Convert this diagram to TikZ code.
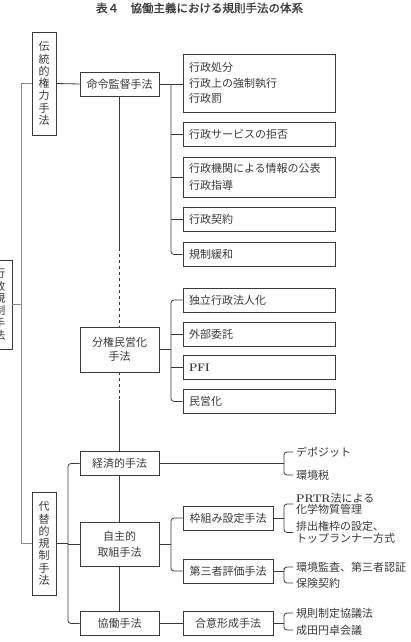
\documentclass[tikz,border=0pt]{standalone}
\usepackage{fontspec}
\newfontfamily\jp{Noto Sans CJK JP}
\newfontfamily\jpbold[FakeBold=1.2]{Noto Sans CJK JP}
\usepackage{xcolor}
\usepackage{tikz}
\usetikzlibrary{positioning}
\definecolor{inkline}{HTML}{3A3A3A}
\definecolor{trunkgray}{HTML}{8C8C8C}

\begin{document}
\begin{tikzpicture}[
  x=1pt, y=-1pt,
  font=\jp\fontsize{11}{13}\selectfont,
  text=inkline,
  box/.style={rectangle, draw=inkline, line width=0.8pt, minimum width=79pt, minimum height=24pt, align=center, inner sep=2pt},
  midbox/.style={box, minimum width=90pt},
  leaf/.style={rectangle, draw=inkline, line width=0.8pt, text width=140pt, inner xsep=6pt, minimum height=24pt, align=left},
  vbox/.style={rectangle, draw=inkline, line width=0.8pt, minimum width=24pt, align=center, inner sep=1pt, font=\jp\fontsize{11}{12.3}\selectfont},
  item/.style={anchor=west, inner xsep=3pt, inner ysep=0pt, align=left},
  link/.style={draw=inkline, line width=0.8pt},
  trunk/.style={draw=trunkgray, line width=1.2pt},
  brace/.style={link, rounded corners=3pt}
]
\useasboundingbox (0,0) rectangle (411,642);

\node[font=\jpbold\fontsize{11.5}{13}\selectfont] (title) at (199.5,8) {表４　協働主義における規則手法の体系};

% left column
\node[vbox, minimum height=89pt] (root) at (0,304.5) {行\\政\\規\\制\\手\\法};
\node[vbox, minimum height=103pt] (trad) at (44,83.5) {伝\\統\\的\\権\\力\\手\\法};
\node[vbox, minimum height=103pt] (alt) at (44,543.5) {代\\替\\的\\規\\制\\手\\法};

% middle column
\node[box] (order) at (119.5,84) {命令監督手法};
\node[box, minimum height=45pt, font=\jp\fontsize{11}{13.5}\selectfont] (decent) at (119.5,349.5) {分権民営化\\手法};
\node[box] (econ) at (119.5,463.5) {経済的手法};
\node[box, minimum height=44pt, font=\jp\fontsize{11}{16}\selectfont] (vol) at (119.5,544) {自主的\\取組手法};
\node[box] (collab) at (119.5,623.5) {協働手法};

% leaves of the traditional branch
\node[leaf, minimum height=58pt, font=\jp\fontsize{11}{15.5}\selectfont] (l1) at (259,83) {行政処分\\行政上の強制執行\\行政罰};
\node[leaf] (l2) at (259,134.5) {行政サービスの拒否};
\node[leaf, minimum height=40pt, font=\jp\fontsize{11}{16.5}\selectfont] (l3) at (259,177) {行政機関による情報の公表\\行政指導};
\node[leaf] (l4) at (259,219.5) {行政契約};
\node[leaf] (l5) at (259,254.5) {規制緩和};
\node[leaf] (p1) at (259,300) {独立行政法人化};
\node[leaf] (p2) at (259,334) {外部委託};
\node[leaf] (p3) at (259,367.5) {{\rmfamily\bfseries PFI}};
\node[leaf] (p4) at (259,401.5) {民営化};

% alternative branch
\node[midbox] (frame) at (228,518) {枠組み設定手法};
\node[midbox] (third) at (228,571) {第三者評価手法};
\node[midbox] (consensus) at (228,623.5) {合意形成手法};

\node[item] (dep) at (293,452) {デポジット};
\node[item] (tax) at (293,475) {環境税};
\node[item, font=\jp\fontsize{11}{11.5}\selectfont] (prtr) at (293,504) {{\rmfamily\bfseries PRTR}法による\\化学物質管理};
\node[item, font=\jp\fontsize{11}{11.5}\selectfont] (emis) at (293,532.5) {排出権枠の設定、\\トップランナー方式};
\node[item] (audit) at (293,567) {環境監査、第三者認証};
\node[item] (insur) at (293,583) {保険契約};
\node[item] (rule) at (293,613) {規則制定協議法};
\node[item] (narita) at (293,630) {成田円卓会議};

% forks
\coordinate (spine) at (22,304.5);
\coordinate (fork1) at (171,84);
\coordinate (fork2) at (171,349.5);
\coordinate (fork3) at (68,543.5);
\coordinate (fork4) at (284,463.5);
\coordinate (fork5) at (171,544);
\coordinate (fork6) at (284,518);
\coordinate (fork7) at (284,571);
\coordinate (fork8) at (284,623.5);
\coordinate (dashA) at (119.5,248);
\coordinate (dashB) at (119.5,400);

% connectors
\draw[trunk] (trad.west) -- ++(-10,0) |- (alt.west);
\draw[trunk] (root.east) -- (spine);
\draw[link] (trad.east) -- (order.west);
\draw[link] (alt.east) -- (fork3);

\draw[link] (order.south) -- (dashA);
\draw[link, dashed] (dashA) -- (decent.north);
\draw[link, dashed] (decent.south) -- (dashB);
\draw[link] (dashB) -- (econ.north);
\draw[link] (econ.south) -- (vol.north);
\draw[link] (vol.south) -- (collab.north);

\draw[link] (order.east) -- (l1.west |- order.east);
\draw[brace] (fork1) |- (l5.west);
\foreach \n in {l2,l3,l4}
  \draw[link] (fork1 |- \n.west) -- (\n.west);

\draw[link] (decent.east) -- (fork2);
\draw[brace] (p1.west) -| (fork2) |- (p4.west);
\foreach \n in {p2,p3}
  \draw[link] (fork2 |- \n.west) -- (\n.west);

\draw[brace] (econ.west) -| (fork3) |- (collab.west);
\draw[link] (fork3 |- vol.west) -- (vol.west);

\draw[link] (econ.east) -- (fork4);
\draw[brace] (dep.west) -| (fork4) |- (tax.west);

\draw[link] (vol.east) -- (fork5);
\draw[brace] (frame.west) -| (fork5) |- (third.west);

\draw[link] (frame.east) -- (fork6);
\draw[brace] (prtr.west) -| (fork6) |- (emis.west);

\draw[link] (third.east) -- (fork7);
\draw[brace] (audit.west) -| (fork7) |- (insur.west);

\draw[link] (collab.east) -- (consensus.west);
\draw[link] (consensus.east) -- (fork8);
\draw[brace] (rule.west) -| (fork8) |- (narita.west);
\end{tikzpicture}
\end{document}
